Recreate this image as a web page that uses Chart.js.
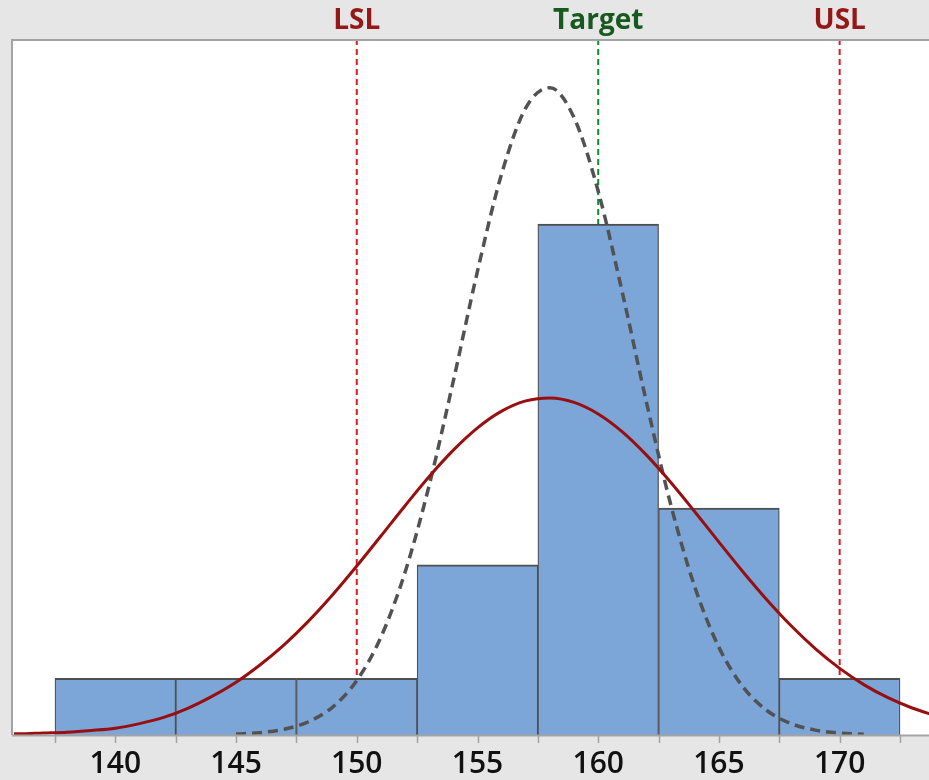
<!DOCTYPE html>
<html>
<head>
<meta charset="utf-8">
<script src="https://cdn.jsdelivr.net/npm/chart.js@4.4.1/dist/chart.umd.min.js"></script>
<style>
  html, body { margin: 0; padding: 0; background: #e6e6e6; }
  #wrap { width: 929px; height: 780px; }
</style>
</head>
<body>
<div id="wrap"><canvas id="cap" width="929" height="780"></canvas></div>
<script>
// Histogram: bin midpoints and their counts
const binMidpoints = [140, 145, 150, 155, 160, 165, 170];
const binCounts = [1, 1, 1, 3, 9, 4, 1];
const binEdges = [137.5, 142.5, 147.5, 152.5, 157.5, 162.5, 167.5, 172.5];

// Labelled x-axis ticks
const tickValues = [140, 145, 150, 155, 160, 165, 170];

// Overall fitted curve (solid)
const overallX = [135.8, 136, 137, 138, 139, 140, 141, 142, 143, 144, 145, 146, 147, 148, 149,
  150, 151, 152, 153, 154, 155, 156, 157, 158, 159, 160, 161, 162, 163, 164, 165, 166, 167,
  168, 169, 170, 171, 172, 173, 174];
const overallY = [0.02, 0.02, 0.035, 0.05, 0.08, 0.12, 0.2, 0.31, 0.47, 0.68, 0.93, 1.238, 1.594,
  2.007, 2.471, 2.977, 3.506, 4.04, 4.554, 5.019, 5.412, 5.707, 5.887, 5.939, 5.861, 5.657,
  5.341, 4.931, 4.454, 3.934, 3.399, 2.873, 2.375, 1.92, 1.518, 1.174, 0.888, 0.657, 0.476, 0.337];

// Within fitted curve (dashed)
const withinX = [145, 146, 147, 148, 149, 150, 151, 152, 153, 154, 155, 156, 157, 158, 159, 160,
  161, 162, 163, 164, 165, 166, 167, 168, 169, 170, 171];
const withinY = [0.016, 0.041, 0.102, 0.234, 0.492, 0.96, 1.725, 2.868, 4.401, 6.24, 8.173, 9.888,
  11.049, 11.405, 10.875, 9.579, 7.793, 5.857, 4.065, 2.607, 1.544, 0.845, 0.427, 0.199, 0.086,
  0.034, 0.013];

// Specification limits
const specNames = ['LSL', 'Target', 'USL'];
const specValues = [150, 160, 170];

// ---- drawing ----
const X_MIN = 135.72, X_MAX = 173.7, Y_MAX = 12.245;
const FONT = '"Open Sans", "DejaVu Sans", sans-serif';
const specLineColor = { LSL: '#dc1a22', Target: '#0a8a32', USL: '#dc1a22' };
const specTextColor = { LSL: '#951818', Target: '#17591f', USL: '#951818' };

const zip = (xs, ys) => xs.map((x, i) => ({ x, y: ys[i] }));

const specSets = specNames.map((name, i) => ({
  type: 'line',
  label: name,
  data: [{ x: specValues[i], y: 0 }, { x: specValues[i], y: Y_MAX }],
  borderColor: specLineColor[name],
  borderWidth: 2,
  borderDash: [6, 4],
  pointRadius: 0,
  order: 3
}));

const framePlugin = {
  id: 'frame',
  beforeDraw(chart) {
    const { ctx, chartArea: a } = chart;
    ctx.save();
    ctx.fillStyle = '#e6e6e6';
    ctx.fillRect(0, 0, chart.width, chart.height);
    ctx.fillStyle = '#ffffff';
    ctx.fillRect(a.left, a.top, a.right - a.left, a.bottom - a.top);
    ctx.restore();
  },
  afterDraw(chart) {
    const { ctx, chartArea: a } = chart;
    const xs = chart.scales.x;
    ctx.save();
    // plot frame: left, top, bottom axis line
    ctx.strokeStyle = '#a3a3a3';
    ctx.lineWidth = 2;
    ctx.beginPath();
    ctx.moveTo(a.left, a.bottom);
    ctx.lineTo(a.left, a.top);
    ctx.lineTo(a.right, a.top);
    ctx.moveTo(a.left, a.bottom + 0.5);
    ctx.lineTo(a.right, a.bottom + 0.5);
    ctx.stroke();
    // tick marks at labelled values and bin edges
    ctx.lineWidth = 1.5;
    ctx.beginPath();
    tickValues.concat(binEdges).forEach(v => {
      const px = Math.round(xs.getPixelForValue(v)) + 0.5;
      ctx.moveTo(px, a.bottom);
      ctx.lineTo(px, a.bottom + 8);
    });
    ctx.stroke();
    // spec limit labels above the plot
    ctx.font = '700 28px ' + FONT;
    ctx.textAlign = 'center';
    ctx.textBaseline = 'alphabetic';
    specNames.forEach((name, i) => {
      ctx.fillStyle = specTextColor[name];
      ctx.fillText(name, xs.getPixelForValue(specValues[i]), 29);
    });
    ctx.restore();
  }
};

new Chart(document.getElementById('cap'), {
  type: 'bar',
  data: {
    datasets: [
      {
        type: 'line',
        label: 'Overall',
        data: zip(overallX, overallY),
        borderColor: '#980f10',
        borderWidth: 3,
        pointRadius: 0,
        cubicInterpolationMode: 'monotone',
        order: 0
      },
      {
        type: 'line',
        label: 'Within',
        data: zip(withinX, withinY),
        borderColor: '#525252',
        borderWidth: 3.5,
        borderDash: [10, 6],
        pointRadius: 0,
        cubicInterpolationMode: 'monotone',
        order: 1
      },
      {
        type: 'bar',
        label: 'Count',
        data: zip(binMidpoints, binCounts),
        backgroundColor: '#7ca5d8',
        borderColor: '#4f4f4f',
        borderWidth: { top: 2, left: 1.25, right: 1.25, bottom: 0 },
        borderSkipped: false,
        barPercentage: 1,
        categoryPercentage: 1,
        order: 2
      },
      ...specSets
    ]
  },
  options: {
    responsive: false,
    animation: false,
    devicePixelRatio: 1,
    layout: { padding: { left: 12, top: 40, right: 0, bottom: 0 } },
    plugins: { legend: { display: false }, tooltip: { enabled: false } },
    scales: {
      x: {
        type: 'linear',
        min: X_MIN,
        max: X_MAX,
        offset: false,
        grid: { display: false },
        border: { display: false },
        ticks: {
          autoSkip: false,
          maxRotation: 0,
          padding: 3,
          color: '#111111',
          font: { family: FONT, size: 30, weight: '600' },
          callback: v => String(v)
        },
        afterBuildTicks: s => { s.ticks = tickValues.map(v => ({ value: v })); },
        afterFit: s => { s.height = 45; s.paddingLeft = 0; s.paddingRight = 0; }
      },
      y: {
        display: false,
        min: 0,
        max: Y_MAX
      }
    }
  },
  plugins: [framePlugin]
});
</script>
</body>
</html>
